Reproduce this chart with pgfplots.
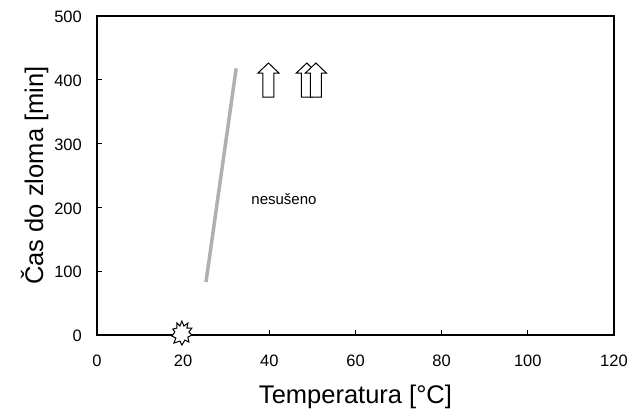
\documentclass[border=0pt]{standalone}
\usepackage{pgfplots}
\pgfplotsset{compat=1.18}
\usepackage{fontspec}
\setmainfont{Liberation Sans}
\newcommand\tl{\fontsize{16.5}{18}\selectfont}
\pgfdeclareplotmark{uparrow}{%
 \pgfpathmoveto{\pgfpoint{-5.5pt}{0pt}}%
 \pgfpathlineto{\pgfpoint{5.5pt}{0pt}}%
 \pgfpathlineto{\pgfpoint{5.5pt}{24pt}}%
 \pgfpathlineto{\pgfpoint{10.5pt}{24pt}}%
 \pgfpathlineto{\pgfpoint{0pt}{34pt}}%
 \pgfpathlineto{\pgfpoint{-10.5pt}{24pt}}%
 \pgfpathlineto{\pgfpoint{-5.5pt}{24pt}}%
 \pgfpathclose
 \pgfusepathqfillstroke}
\pgfdeclareplotmark{burst}{%
 \pgfpathmoveto{\pgfpoint{0pt}{12pt}}%
 \pgfpathlineto{\pgfpoint{2pt}{7pt}}%
 \pgfpathlineto{\pgfpoint{6pt}{10pt}}%
 \pgfpathlineto{\pgfpoint{5pt}{5pt}}%
 \pgfpathlineto{\pgfpoint{10pt}{5pt}}%
 \pgfpathlineto{\pgfpoint{7pt}{1pt}}%
 \pgfpathlineto{\pgfpoint{10pt}{-2pt}}%
 \pgfpathlineto{\pgfpoint{6pt}{-4pt}}%
 \pgfpathlineto{\pgfpoint{7pt}{-9pt}}%
 \pgfpathlineto{\pgfpoint{3pt}{-7pt}}%
 \pgfpathlineto{\pgfpoint{0pt}{-12pt}}%
 \pgfpathlineto{\pgfpoint{-2pt}{-8pt}}%
 \pgfpathlineto{\pgfpoint{-8pt}{-10pt}}%
 \pgfpathlineto{\pgfpoint{-6pt}{-5pt}}%
 \pgfpathlineto{\pgfpoint{-10pt}{-3pt}}%
 \pgfpathlineto{\pgfpoint{-7pt}{1pt}}%
 \pgfpathlineto{\pgfpoint{-9pt}{4pt}}%
 \pgfpathlineto{\pgfpoint{-5pt}{5pt}}%
 \pgfpathlineto{\pgfpoint{-5pt}{10pt}}%
 \pgfpathlineto{\pgfpoint{-2pt}{7pt}}%
 \pgfpathclose
 \pgfusepathqfillstroke}
\begin{document}
\begin{tikzpicture}
\begin{axis}[
  scale only axis, width=517pt, height=319pt,
  xmin=0, xmax=120, ymin=0, ymax=500,
  xtick={0,20,...,120}, ytick={0,100,...,500},
  xticklabels={{\tl 0},{\tl 20},{\tl 40},{\tl 60},{\tl 80},{\tl 100},{\tl 120}},
  yticklabels={{\tl 0},{\tl 100},{\tl 200},{\tl 300},{\tl 400},{\tl 500}},
  tick pos=left, tick align=inside,
  major tick length=5pt,
  axis line style={line width=1.4pt},
  tick style={line width=1pt, black},
  /pgf/number format/assume math mode=true,
  xticklabel style={anchor=center, inner sep=0pt, yshift=-25.5pt},
  yticklabel style={anchor=east, inner sep=0pt, xshift=-15pt, yshift=-1pt},
  xlabel={Temperatura [°C]},
  ylabel={Čas do zloma [min]},
  xlabel style={font=\fontsize{25.5}{28}\selectfont, at={(axis description cs:0.5,0)}, anchor=base, yshift=-69pt},
  ylabel style={font=\fontsize{25.5}{28}\selectfont, at={(axis description cs:-0.1044,0.5)}, anchor=base},
  clip=false,
]
\addplot[color={rgb,255:red,176;green,176;blue,176}, line width=3.5pt] coordinates {(25.3,83) (32.3,418)};
\addplot[only marks, mark=uparrow, mark options={fill=white, draw=black, line width=1pt}] coordinates {(39.8,373) (48.7,373) (50.8,373)};
\addplot[only marks, mark=burst, mark options={fill=white, draw=black, line width=1pt}] coordinates {(19.7,3)};
\node[font=\fontsize{15}{17}\selectfont] at (axis cs:43.4,213) {nesušeno};
\end{axis}
\pgfresetboundingbox
\path ([shift={(-97pt,-75pt)}]current axis.south west) rectangle ([shift={(25pt,16pt)}]current axis.north east);
\end{tikzpicture}
\end{document}
